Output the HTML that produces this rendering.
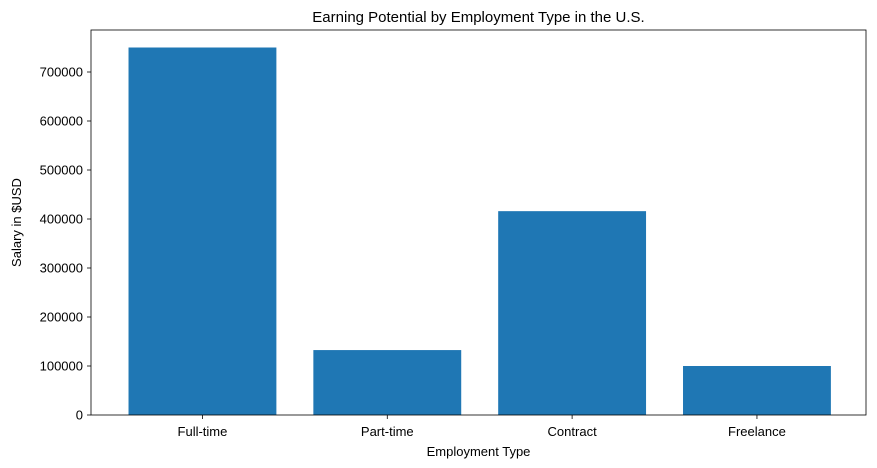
<!DOCTYPE html>
<html><head><meta charset="utf-8"><style>
body{margin:0;background:#fff;}
svg{display:block;font-family:"Liberation Sans","DejaVu Sans",sans-serif;}
</style></head><body>
<svg id="chart" width="877" height="468">
</svg>
<script>
const categories = ["Full-time","Part-time","Contract","Freelance"];
const salaries = [750000, 132500, 416000, 100000];
const yTicks = [0,100000,200000,300000,400000,500000,600000,700000];

const L=91,R=866,T=30,B=415;
const xMin=-0.603,xMax=3.59;
const yMax=(B-T)/49*100000;
const xs=v=>L+(v-xMin)/(xMax-xMin)*(R-L);
const ys=v=>B-v/yMax*(B-T);
const NS="http://www.w3.org/2000/svg";
const svg=document.getElementById('chart');
function mk(tag,attrs,text){const e=document.createElementNS(NS,tag);for(const k in attrs)e.setAttribute(k,attrs[k]);if(text!=null)e.textContent=text;svg.appendChild(e);return e;}

categories.forEach((c,i)=>{
  const x0=xs(i-0.4),x1=xs(i+0.4);
  const r=mk('rect',{x:x0,y:ys(salaries[i]),width:x1-x0,height:B-ys(salaries[i]),fill:'#1f77b4'});
  
  
  const tk=mk('line',{x1:xs(i),x2:xs(i),y1:B,y2:B+4,stroke:'#000','stroke-width':0.8});
  
  
  const t=mk('text',{x:xs(i),y:B+21,'text-anchor':'middle','font-size':13},c);
  
  
});
yTicks.forEach(v=>{
  const tk=mk('line',{x1:L-4,x2:L,y1:ys(v),y2:ys(v),stroke:'#000','stroke-width':0.8});
  
  
  const t=mk('text',{x:L-8,y:ys(v)+4.5,'text-anchor':'end','font-size':13},String(v));
  
  
});
const frame=mk('rect',{x:L,y:T,width:R-L,height:B-T,fill:'none',stroke:'#000','stroke-width':0.8});


const title=mk('text',{x:(L+R)/2,y:T-8,'text-anchor':'middle','font-size':15},'Earning Potential by Employment Type in the U.S.');


const xt=mk('text',{x:(L+R)/2,y:456,'text-anchor':'middle','font-size':13},'Employment Type');


const yt=mk('text',{x:21,y:(T+B)/2,'text-anchor':'middle','font-size':13,transform:`rotate(-90 21 ${(T+B)/2})`},'Salary in $USD');


</script>
</body></html>
